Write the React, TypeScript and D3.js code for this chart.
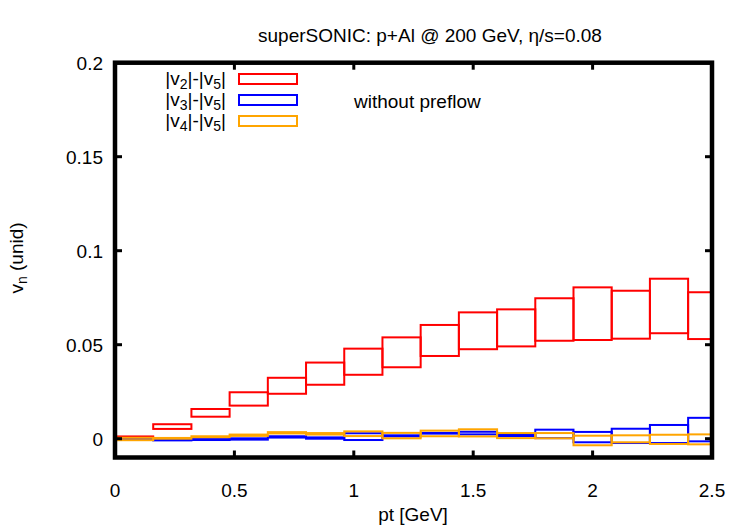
import React from "react";
import * as d3 from "d3";

// bin edges (GeV), 0.16 wide
const binEdges = [0, 0.16, 0.32, 0.48, 0.64, 0.8, 0.96, 1.12, 1.28, 1.44, 1.6, 1.76, 1.92, 2.08, 2.24, 2.4, 2.56];

// upper / lower edge of each box
const v2Hi = [0.0012, 0.0077, 0.0158, 0.0247, 0.0324, 0.0405, 0.0479, 0.0539, 0.0605, 0.0672, 0.0688, 0.0747, 0.0805, 0.0787, 0.0851, 0.0779];
const v2Lo = [0.0008, 0.0052, 0.0117, 0.0176, 0.0239, 0.0287, 0.034, 0.038, 0.044, 0.0476, 0.0491, 0.0521, 0.0525, 0.0532, 0.0561, 0.053];
const v3Hi = [0.0002, -0.0003, -0.0002, 0.0002, 0.0013, 0.0007, 0.0029, 0.0018, 0.0031, 0.0037, 0.002, 0.0048, 0.0036, 0.0053, 0.0073, 0.0111];
const v3Lo = [-0.0006, -0.0009, -0.0007, -0.0005, 0.0006, 0.0, -0.0007, 0.0012, 0.0027, 0.0023, 0.0014, 0.0003, -0.0019, -0.0023, -0.0023, -0.0014];
const v4Hi = [0.0005, 0.0004, 0.0013, 0.0022, 0.0035, 0.003, 0.0039, 0.0031, 0.0043, 0.005, 0.003, 0.003, 0.0016, 0.0018, 0.0021, 0.0023];
const v4Lo = [-0.0008, 0.0, 0.0008, 0.0015, 0.0028, 0.0022, 0.0014, 0.0002, 0.0013, 0.0012, 0.0003, 0.0002, -0.0035, -0.0019, -0.0028, -0.003];

const xTicks = [0, 0.5, 1, 1.5, 2, 2.5];
const yTicks = [0, 0.05, 0.1, 0.15, 0.2];

const series = [
  { sub1: "2", hi: v2Hi, lo: v2Lo, color: "#ff0000" },
  { sub1: "3", hi: v3Hi, lo: v3Lo, color: "#0000ff" },
  { sub1: "4", hi: v4Hi, lo: v4Lo, color: "#ffa500" },
];

const width = 750;
const height = 525;
const left = 115;
const right = 712;
const top = 62.7;
const bottom = 457.5;
const font = "'Liberation Sans', Arial, sans-serif";
const fs = 19;
const subFs = 14;

export default function App() {
  const x = d3.scaleLinear().domain([0, 2.5]).range([left, right]);
  const y = d3.scaleLinear().domain([-0.01, 0.2]).range([bottom, top]);

  return (
    <svg width={width} height={height} style={{ position: "absolute", left: 0, top: 0, background: "#fff" }} fontFamily={font}>
      <defs>
        <clipPath id="plot">
          <rect x={left} y={top} width={right - left} height={bottom - top} />
        </clipPath>
      </defs>

      {/* title */}
      <text x={430} y={42} fontSize={fs} textAnchor="middle">superSONIC: p+Al @ 200 GeV, η/s=0.08</text>

      {/* boxes */}
      <g clipPath="url(#plot)">
        {series.map((s) => (
          <g key={s.sub1}>
            {s.hi.map((h, i) => (
              <rect
                key={i}
                x={x(binEdges[i])}
                y={y(h)}
                width={x(binEdges[i + 1]) - x(binEdges[i])}
                height={Math.max(0, y(s.lo[i]) - y(h))}
                fill="none"
                stroke={s.color}
                strokeWidth={2}
              />
            ))}
          </g>
        ))}
      </g>

      {/* ticks, mirrored inside */}
      {xTicks.slice(1, -1).map((t) => (
        <g key={t} stroke="#000" strokeWidth={3}>
          <line x1={x(t)} x2={x(t)} y1={bottom} y2={bottom - 7} />
          <line x1={x(t)} x2={x(t)} y1={top} y2={top + 7} />
        </g>
      ))}
      {yTicks.slice(0, -1).map((t) => (
        <g key={t} stroke="#000" strokeWidth={3}>
          <line x1={left} x2={left + 7} y1={y(t)} y2={y(t)} />
          <line x1={right} x2={right - 7} y1={y(t)} y2={y(t)} />
        </g>
      ))}

      {/* border */}
      <rect x={left} y={top} width={right - left} height={bottom - top} fill="none" stroke="#000" strokeWidth={4.5} />

      {/* tick labels */}
      {xTicks.map((t) => (
        <text key={t} x={x(t)} y={497} fontSize={fs} textAnchor="middle">{t}</text>
      ))}
      {yTicks.map((t) => (
        <text key={t} x={103} y={y(t) + 7} fontSize={fs} textAnchor="end">{t}</text>
      ))}

      {/* axis labels */}
      <text x={413} y={521} fontSize={fs} textAnchor="middle">pt [GeV]</text>
      <text transform="translate(23,258) rotate(-90)" fontSize={fs} textAnchor="middle">
        v<tspan fontSize={subFs} dy={4}>n</tspan><tspan dy={-4}> (unid)</tspan>
      </text>

      {/* legend */}
      {series.map((s, i) => (
        <g key={s.sub1} transform={`translate(0,${79 + i * 21})`}>
          <text x={226} y={6} fontSize={fs} textAnchor="end">
            |v<tspan fontSize={subFs} dy={4}>{s.sub1}</tspan><tspan dy={-4}>|-|v</tspan><tspan fontSize={subFs} dy={4}>5</tspan><tspan dy={-4}>|</tspan>
          </text>
          <rect x={239} y={-5} width={58} height={10} fill="none" stroke={s.color} strokeWidth={2} />
        </g>
      ))}

      <text x={354} y={108} fontSize={fs}>without preflow</text>
    </svg>
  );
}
